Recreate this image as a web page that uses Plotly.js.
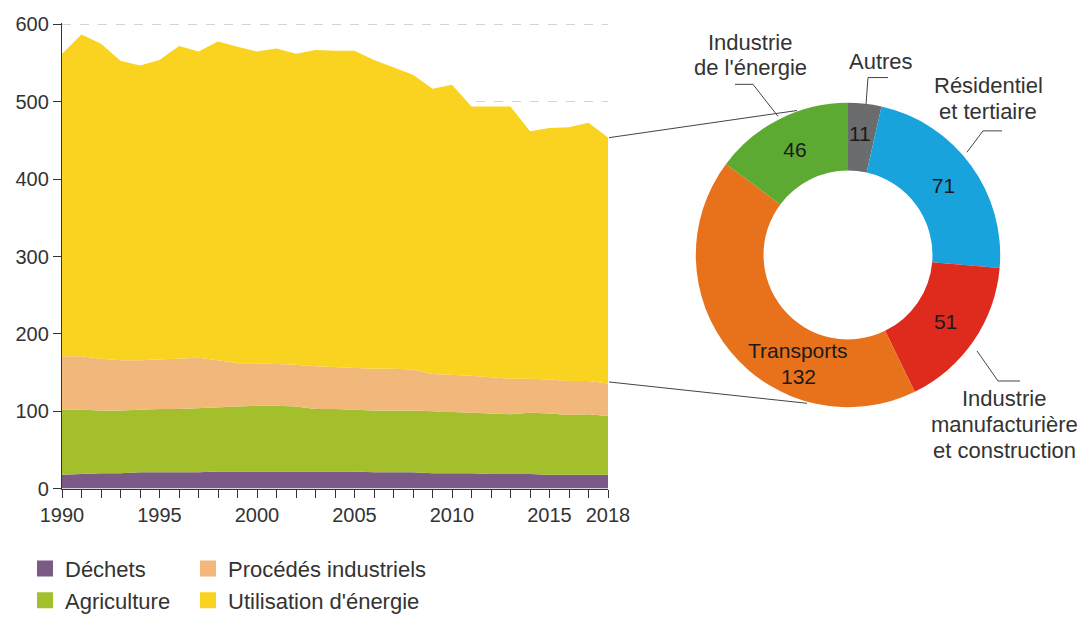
<!DOCTYPE html>
<html><head><meta charset="utf-8">
<script src="https://cdn.plot.ly/plotly-3.0.1.min.js"></script>
<style>html,body{margin:0;padding:0;background:#fff;overflow:hidden}#chart{width:1080px;height:622px}</style>
</head><body><div id="chart"></div>
<script>
// ---- Data (Mt CO2e) ----
const years = [1990,1991,1992,1993,1994,1995,1996,1997,1998,1999,2000,2001,2002,2003,2004,2005,2006,2007,2008,2009,2010,2011,2012,2013,2014,2015,2016,2017,2018];
const dechets     = [18,19,20,20,21,21,21,21,22,22,22,22,22,22,22,22,21,21,21,20,20,20,19,19,19,18,18,18,18];
const agriculture = [84,83,81,81,81,82,82,83,83,84,85,85,84,81,81,80,80,80,80,80,79,78,78,77,79,79,77,78,76];
const procedes    = [69,69,67,65,64,64,65,65,61,56,55,54,54,55,54,54,54,54,53,48,48,48,47,46,44,44,44,43,42];
const energie     = [391,416,407,387,381,387,404,396,412,409,403,408,402,409,409,410,399,389,381,369,375,348,350,352,320,325,328,334,318];
const seriesNames = ["Déchets","Agriculture","Procédés industriels","Utilisation d'énergie"];
const tickYears   = [1990,1995,2000,2005,2010,2015,2018];

const donutLabels = ["Autres","Résidentiel et tertiaire","Industrie manufacturière et construction","Transports","Industrie de l'énergie"];
const donutValues = [11,71,51,132,46];

// ---- Styles ----
const colors = ["#7b5a87","#a3bf2b","#f2b87b","#f9d31f"];
const donutColors = ["#6b6c6e","#19a3dc","#df2a1e","#e8711b","#5daa33"];
const FONT = "Liberation Sans, Arial, Helvetica, sans-serif";
const TXT = "#333333";
const FS_TICK = 20, FS_LEG = 22, FS_LAB = 22, FS_VAL = 21;
const W = 1080, H = 622;
const px = (x,y) => ({x: x/W, y: (H-y)/H});

const seriesData = [dechets, agriculture, procedes, energie];
const traces = [];
seriesData.forEach((d,i) => {
  traces.push({type:"scatter", mode:"lines", x: years, y: d, stackgroup:"one",
    line:{width:0, color:colors[i]}, fillcolor: colors[i], name: seriesNames[i],
    showlegend:false, legendgroup:"g"+i, hoverinfo:"x+y+name"});
});
// legend proxies (square swatches)
seriesData.forEach((d,i) => {
  traces.push({type:"scatter", mode:"markers", x:[null], y:[null], name: seriesNames[i],
    marker:{symbol:"square", size:18, color:colors[i]}, legendgroup:"g"+i,
    legend: (i===0||i===1) ? "legend" : "legend2", showlegend:true});
});

// labels drawn as annotations for these slices (placement as in the reference)
const annotatedSlices = ["Autres","Transports"];
const pieDom = {x:[691/W, 1005/W], y:[(H-420)/H, (H-106)/H]};
traces.push({type:"pie", values: donutValues, labels: donutLabels, sort:false,
  direction:"clockwise", rotation:0, hole:0.555, domain: pieDom,
  marker:{colors: donutColors, line:{width:0}},
  texttemplate: donutLabels.map(l => annotatedSlices.includes(l) ? "" : "%{value}"),
  textposition:"inside", insidetextorientation:"horizontal",
  textfont:{family:FONT, size:FS_VAL, color:"#1a1a1a"}, showlegend:false, hoverinfo:"label+value"});

const tickText = years.map(y => tickYears.includes(y) ? String(y) : "");

// Connector and leader lines (decorations, pixel positions)
function seg(pts){
  const shapes=[];
  for(let i=0;i<pts.length-1;i++){
    const a=px(pts[i][0],pts[i][1]), b=px(pts[i+1][0],pts[i+1][1]);
    shapes.push({type:"line", xref:"paper", yref:"paper", x0:a.x, y0:a.y, x1:b.x, y1:b.y,
      line:{color:"#444", width:1}});
  }
  return shapes;
}
const shapes = [].concat(
  seg([[609,142],[797,114]]),
  seg([[609,394],[807,416]]),
  seg([[735,87],[753,87],[778,120]]),
  seg([[888,80],[868,80],[866,108]]),
  seg([[1002,135],[983,135],[967,157]]),
  seg([[977,362],[998,393],[1020,393]])
);

function label(lines, cx, cy, gap, size, color){
  const n = lines.length;
  return lines.map((t,i)=>{
    const p = px(cx, cy + (i-(n-1)/2)*gap);
    return {xref:"paper", yref:"paper", x:p.x, y:p.y, xanchor:"center", yanchor:"middle",
      text:t, showarrow:false, font:{family:FONT, size:size, color: color || TXT}};
  });
}
const iA = donutLabels.indexOf("Autres"), iT = donutLabels.indexOf("Transports");
const annotations = [].concat(
  label(["Industrie","de l'énergie"], 750, 57, 26, FS_LAB),
  label(["Autres"], 881, 63, 26, FS_LAB),
  label(["Résidentiel","et tertiaire"], 988, 102, 27, FS_LAB),
  label(["Industrie","manufacturière","et construction"], 1004, 438, 27, FS_LAB),
  label([String(donutValues[iA])], 860, 138, 26, FS_VAL, "#1a1a1a"),
  label([donutLabels[iT], String(donutValues[iT])], 798, 375, 26, FS_VAL, "#1a1a1a")
);

const layout = {
  width: W, height: H, margin:{l:0,r:0,t:0,b:0},
  paper_bgcolor:"#fff", plot_bgcolor:"#fff",
  font:{family:FONT, size:FS_TICK, color:TXT},
  xaxis:{domain:[62/W, 608/W], range:[1990,2018], showgrid:false, zeroline:false,
    showline:true, linecolor:"#333", linewidth:1.2, ticks:"outside", ticklen:8, tickcolor:"#333",
    tickmode:"array", tickvals: years, ticktext: tickText, tickfont:{size:FS_TICK, color:TXT}, automargin:false},
  yaxis:{domain:[(H-504)/H, (H-24)/H], range:[0,601.5], showgrid:true, gridcolor:"#d4d4d4",
    griddash:"dash", gridwidth:1, zeroline:false, showline:true, linecolor:"#333", linewidth:1.2,
    ticks:"outside", ticklen:8, tickcolor:"#333", tickmode:"linear", tick0:0, dtick:100,
    tickfont:{size:FS_TICK, color:TXT}, automargin:false},
  legend:{x:25/W, y:(H-565)/H, xanchor:"left", yanchor:"top", orientation:"v",
    font:{size:FS_LEG, color:TXT}, bgcolor:"rgba(0,0,0,0)", itemclick:false, tracegroupgap:0},
  legend2:{x:188/W, y:(H-565)/H, xanchor:"left", yanchor:"top", orientation:"v",
    font:{size:FS_LEG, color:TXT}, bgcolor:"rgba(0,0,0,0)", itemclick:false, tracegroupgap:0},
  uniformtext:{minsize:FS_VAL, mode:"show"},
  shapes: shapes, annotations: annotations, showlegend:true
};
Plotly.newPlot("chart", traces, layout, {displayModeBar:false, staticPlot:true});
</script></body></html>
